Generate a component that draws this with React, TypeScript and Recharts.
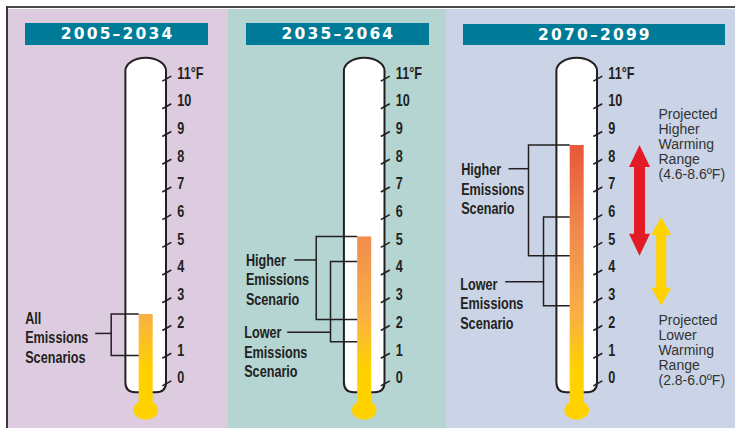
import React from 'react';
import { BarChart, Bar, XAxis, YAxis } from 'recharts';

// ---------- data ----------
const PERIODS = ['2005–2034', '2035–2064', '2070–2099'];
const MERCURY_TOP = [2.5, 5.3, 8.6];
const ALL_SCENARIOS_RANGE: [number, number] = [1.0, 2.5];
const HIGHER_SCENARIO_RANGE: [number, number][] = [[2.3, 5.3], [4.6, 8.6]]; // mid, late century
const LOWER_SCENARIO_RANGE: [number, number][] = [[1.5, 4.4], [2.8, 6.0]];
const HIGHER_WARMING_RANGE: [number, number] = [4.6, 8.6];
const LOWER_WARMING_RANGE: [number, number] = [2.8, 6.0];
const TICKS = [0, 1, 2, 3, 4, 5, 6, 7, 8, 9, 10, 11];
const TICK_LABELS = ['0', '1', '2', '3', '4', '5', '6', '7', '8', '9', '10', '11°F'];
const ALL_LABEL = ['All', 'Emissions', 'Scenarios'];
const HIGHER_LABEL = ['Higher', 'Emissions', 'Scenario'];
const LOWER_LABEL = ['Lower', 'Emissions', 'Scenario'];
const HIGHER_RANGE_TEXT = ['Projected', 'Higher', 'Warming', 'Range', '(4.6-8.6ºF)'];
const LOWER_RANGE_TEXT = ['Projected', 'Lower', 'Warming', 'Range', '(2.8-6.0ºF)'];

// ---------- layout / style ----------
const W = 735;
const H = 428;
const Y_MIN = -1.5;
const Y_MAX = 12;
const M_TOP = 50.8;
const M_BOTTOM = 3.14;
const TUBE_HALF = 20.3;
const AXIS_W = 60;
const TUBE_RANGE: [number, number] = [-0.325, 11.75];
const BULB_LEVEL = -0.97;
const PANEL_CX = [145.5, 364, 576.5];
const INK = '#231f20';
const BOLD_FONT = "'Liberation Sans', Arial, sans-serif";
const NARROW = 0.79;
const REG_FONT = "'Liberation Sans', Arial, sans-serif";
const HEAD_FONT = "'DejaVu Sans', Verdana, sans-serif";

const PANELS = [
  { x0: 7.5, x1: 228.3, bg: '#ddcce0', hx: 25, hw: 183, hy: 23, hh: 21.7 },
  { x0: 228.3, x1: 445.7, bg: '#b4d5d2', hx: 246, hw: 182.7, hy: 23, hh: 21.7 },
  { x0: 445.7, x1: 735, bg: '#cad4e6', hx: 463, hw: 261.7, hy: 24, hh: 21.3 },
];

type BracketCfg = {
  key: string;
  bracketDx: number;
  connDx: number;
  textDx: number;
  connDy: number;
  textDy: number;
  lines: string[];
};

const PANEL_BRACKETS: BracketCfg[][] = [
  [{ key: 'all', bracketDx: -34.5, connDx: -50.5, textDx: -120.5, connDy: 19.4, textDy: -9.7, lines: ALL_LABEL }],
  [
    { key: 'higher', bracketDx: -48, connDx: -70, textDx: -118.3, connDy: 23.5, textDy: 6, lines: HIGHER_LABEL },
    { key: 'lower', bracketDx: -33.7, connDx: -77, textDx: -120, connDy: 70.9, textDy: 6, lines: LOWER_LABEL },
  ],
  [
    { key: 'higher', bracketDx: -48.2, connDx: -68.2, textDx: -115.5, connDy: 23.7, textDy: 6.5, lines: HIGHER_LABEL },
    { key: 'lower', bracketDx: -33.2, connDx: -71.5, textDx: -116.5, connDy: 64.7, textDy: 8, lines: LOWER_LABEL },
  ],
];

type ArrowCfg = {
  key: string;
  dx: number;
  hw: number;
  sw: number;
  hl: number;
  color: string;
  textDx: number;
  textAt: 'top' | 'bottom';
  textDy: number;
  lines: string[];
};

const ARROWS: ArrowCfg[] = [
  { key: 'hiWarm', dx: 62.8, hw: 10.5, sw: 5.5, hl: 22, color: '#e31b24', textDx: 81.8, textAt: 'top', textDy: -26.5, lines: HIGHER_RANGE_TEXT },
  { key: 'loWarm', dx: 84.5, hw: 10, sw: 5, hl: 18, color: '#ffd200', textDx: 81.8, textAt: 'bottom', textDy: 19.3, lines: LOWER_RANGE_TEXT },
];

// ---------- chart rows ----------
const rows = PERIODS.map((name, i) => {
  const r: any = { name, tube: TUBE_RANGE, mercury: [BULB_LEVEL, MERCURY_TOP[i]] };
  if (i === 0) r.all = ALL_SCENARIOS_RANGE;
  else {
    r.higher = HIGHER_SCENARIO_RANGE[i - 1];
    r.lower = LOWER_SCENARIO_RANGE[i - 1];
  }
  if (i === 2) {
    r.hiWarm = HIGHER_WARMING_RANGE;
    r.loWarm = LOWER_WARMING_RANGE;
  }
  return r;
});

// narrow bold text (condensed look)
const NarrowText = ({ x, y, children }: { x: number; y: number; children: React.ReactNode }) => (
  <text
    transform={`translate(${x},${y}) scale(${NARROW},1)`}
    x={0}
    y={0}
    fontFamily={BOLD_FONT}
    fontWeight={700}
    fontSize={16}
    fill={INK}
  >
    {children}
  </text>
);

// ---------- shapes ----------
const TubeShape = (p: any) => {
  const cx = p.x + p.width / 2;
  const L = cx - TUBE_HALF;
  const R = cx + TUBE_HALF;
  const t = p.y;
  const b = p.y + p.height;
  const d = `M${L},${t + 13} A${TUBE_HALF},13 0 0 1 ${R},${t + 13} L${R},${b - 10} Q${R},${b} ${R - 10},${b} L${L + 10},${b} Q${L},${b} ${L},${b - 10} Z`;
  return <path d={d} fill="#ffffff" stroke={INK} strokeWidth={2} />;
};

const makeMercury = (gid: string) => (p: any) => {
  const cx = p.x + p.width / 2;
  const t = p.y;
  const b = p.y + p.height;
  return (
    <g>
      <rect x={cx - 7} y={t} width={14} height={b - t} fill={`url(#${gid})`} />
      <ellipse cx={cx} cy={b} rx={12.3} ry={9.7} fill={`url(#${gid})`} />
    </g>
  );
};

const makeBracket = (cfg: BracketCfg) => (p: any) => {
  const cx = p.x + p.width / 2;
  const t = p.y;
  const b = p.y + p.height;
  const bx = cx + cfg.bracketDx;
  const mx = cx - 7;
  const cy = t + cfg.connDy;
  return (
    <g>
      <path d={`M${mx},${t} L${bx},${t} L${bx},${b} L${mx},${b}`} fill="none" stroke={INK} strokeWidth={1.5} />
      <line x1={cx + cfg.connDx} y1={cy} x2={bx} y2={cy} stroke={INK} strokeWidth={1.5} />
      {cfg.lines.map((ln, k) => (
        <NarrowText key={k} x={cx + cfg.textDx} y={cy + cfg.textDy + k * 19.5}>
          {ln}
        </NarrowText>
      ))}
    </g>
  );
};

const makeArrow = (cfg: ArrowCfg) => (p: any) => {
  const cx = p.x + p.width / 2;
  const ax = cx + cfg.dx;
  const t = p.y;
  const b = p.y + p.height;
  const { hw, sw, hl } = cfg;
  const d = `M${ax},${t} L${ax + hw},${t + hl} L${ax + sw},${t + hl} L${ax + sw},${b - hl} L${ax + hw},${b - hl} L${ax},${b} L${ax - hw},${b - hl} L${ax - sw},${b - hl} L${ax - sw},${t + hl} L${ax - hw},${t + hl} Z`;
  const ty0 = (cfg.textAt === 'top' ? t : b) + cfg.textDy;
  return (
    <g>
      <path d={d} fill={cfg.color} />
      {cfg.lines.map((ln, k) => (
        <text key={k} x={cx + cfg.textDx} y={ty0 + k * 15} fontFamily={REG_FONT} fontSize={14} fill="#333333">
          {ln}
        </text>
      ))}
    </g>
  );
};

const renderTick = (p: any) => {
  const { x, y, payload } = p;
  const idx = TICKS.indexOf(payload.value);
  return (
    <g>
      <line x1={x - 3.5} y1={y + 2.6} x2={x + 5.5} y2={y - 2.4} stroke={INK} strokeWidth={1.6} />
      <NarrowText x={x + 11.5} y={y}>
        {TICK_LABELS[idx]}
      </NarrowText>
    </g>
  );
};

const Thermometer = ({ i }: { i: number }) => {
  const cx = PANEL_CX[i];
  const gid = `merc-grad-${i}`;
  const brackets = PANEL_BRACKETS[i];
  const arrows = i === 2 ? ARROWS : [];
  const ids = ['tube', 'mercury', ...brackets.map((b) => b.key), ...arrows.map((a) => a.key)];
  return (
    <div style={{ position: 'absolute', left: 0, top: 0 }}>
      <BarChart
        width={W}
        height={H}
        data={[rows[i]]}
        margin={{ top: M_TOP, bottom: M_BOTTOM, left: cx - TUBE_HALF, right: W - (cx + TUBE_HALF) - AXIS_W }}
        barCategoryGap={0}
        barGap={0}
      >
        <defs>
          <linearGradient id={gid} gradientUnits="userSpaceOnUse" x1={0} y1={420} x2={0} y2={140}>
            <stop offset="0" stopColor="#ffd200" />
            <stop offset="0.18" stopColor="#ffd200" />
            <stop offset="0.375" stopColor="#f9b044" />
            <stop offset="0.657" stopColor="#f08c4e" />
            <stop offset="0.986" stopColor="#e8573a" />
            <stop offset="1" stopColor="#e6523a" />
          </linearGradient>
        </defs>
        {ids.map((id) => (
          <XAxis key={id} xAxisId={id} dataKey="name" hide />
        ))}
        <YAxis
          orientation="right"
          type="number"
          domain={[Y_MIN, Y_MAX]}
          ticks={TICKS}
          interval={0}
          width={AXIS_W}
          tickSize={0}
          tickMargin={0}
          tickLine={false}
          axisLine={false}
          tick={renderTick}
        />
        <Bar xAxisId="tube" dataKey="tube" shape={TubeShape} isAnimationActive={false} />
        <Bar xAxisId="mercury" dataKey="mercury" shape={makeMercury(gid)} isAnimationActive={false} />
        {brackets.map((b) => (
          <Bar key={b.key} xAxisId={b.key} dataKey={b.key} shape={makeBracket(b)} isAnimationActive={false} />
        ))}
        {arrows.map((a) => (
          <Bar key={a.key} xAxisId={a.key} dataKey={a.key} shape={makeArrow(a)} isAnimationActive={false} />
        ))}
      </BarChart>
    </div>
  );
};

export default function App() {
  return (
    <div style={{ position: 'absolute', left: 0, top: 0, width: W, height: H, overflow: 'hidden', background: '#ffffff' }}>
      {PANELS.map((p, i) => (
        <div key={`bg${i}`} style={{ position: 'absolute', left: p.x0, top: 9.3, width: p.x1 - p.x0, height: H - 9.3, background: p.bg }} />
      ))}
      <div style={{ position: 'absolute', left: 6, top: 6, width: W - 6, height: 2, background: '#4a4a4a' }} />
      <div style={{ position: 'absolute', left: 6, top: 6, width: 1.5, height: H - 6, background: '#3a3a3a' }} />
      {PANELS.map((p, i) => (
        <div
          key={`hd${i}`}
          style={{
            position: 'absolute',
            left: p.hx,
            top: p.hy,
            width: p.hw,
            height: p.hh,
            background: '#007b97',
            color: '#ffffff',
            fontFamily: HEAD_FONT,
            fontWeight: 700,
            fontSize: 15.5,
            letterSpacing: 2.2,
            lineHeight: `${p.hh + 1}px`,
            textAlign: 'center',
            paddingLeft: 2.2,
            boxSizing: 'border-box',
          }}
        >
          {PERIODS[i]}
        </div>
      ))}
      {PERIODS.map((_, i) => (
        <Thermometer key={i} i={i} />
      ))}
    </div>
  );
}
